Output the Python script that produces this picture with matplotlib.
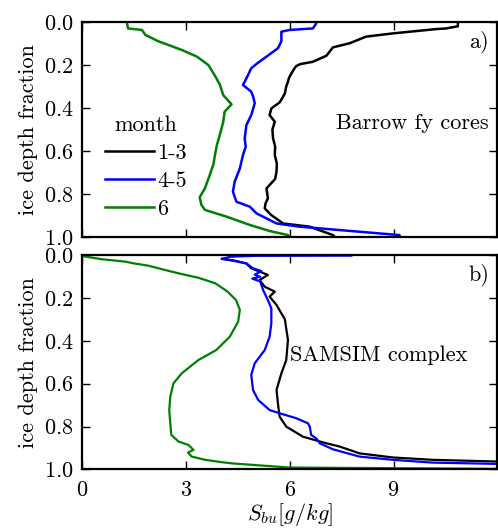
import matplotlib
matplotlib.use("Agg")
import matplotlib.pyplot as plt

# a) Barrow first-year cores: bulk salinity vs ice depth fraction
barrow_z_13 = [0.0, 0.02, 0.03, 0.033, 0.053, 0.068, 0.099, 0.118, 0.157, 0.185, 0.196, 0.205,
               0.22, 0.239, 0.26, 0.278, 0.30, 0.332, 0.35, 0.374, 0.402, 0.433, 0.464, 0.50,
               0.541, 0.58, 0.619, 0.66, 0.696, 0.73, 0.758, 0.774, 0.82, 0.845, 0.867, 0.898,
               0.937, 0.952, 0.991, 1.0]
barrow_s_13 = [10.86, 10.86, 10.52, 10.23, 8.98, 8.21, 7.73, 7.25, 7.06, 6.67, 6.30, 6.19,
               6.12, 6.05, 5.98, 5.95, 5.90, 5.86, 5.80, 5.71, 5.47, 5.42, 5.57, 5.50,
               5.52, 5.58, 5.57, 5.63, 5.62, 5.58, 5.42, 5.33, 5.37, 5.30, 5.28, 5.47,
               5.81, 6.58, 7.25, 7.30]

barrow_z_45 = [0.0, 0.006, 0.03, 0.037, 0.045, 0.09, 0.122, 0.161, 0.19, 0.215, 0.262, 0.293,
               0.324, 0.35, 0.378, 0.433, 0.479, 0.541, 0.58, 0.619, 0.681, 0.743, 0.789, 0.836,
               0.859, 0.89, 0.937, 0.952, 0.991, 1.0]
barrow_s_45 = [6.77, 6.77, 6.67, 6.00, 5.76, 5.76, 5.66, 5.33, 5.08, 4.89, 4.75, 4.65,
               4.89, 4.95, 4.99, 4.89, 4.75, 4.70, 4.73, 4.65, 4.56, 4.41, 4.36, 4.46,
               4.85, 5.04, 5.62, 6.29, 9.17, 9.20]

barrow_z_6 = [0.0, 0.006, 0.03, 0.037, 0.06, 0.09, 0.107, 0.13, 0.161, 0.20, 0.25, 0.29,
              0.34, 0.383, 0.417, 0.464, 0.526, 0.57, 0.619, 0.66, 0.712, 0.774, 0.815, 0.851,
              0.874, 0.905, 0.944, 0.972, 0.991, 1.0]
barrow_s_6 = [1.30, 1.30, 1.33, 1.73, 1.83, 2.21, 2.50, 2.88, 3.32, 3.65, 3.84, 3.98,
              4.08, 4.32, 4.12, 4.08, 3.98, 3.90, 3.84, 3.80, 3.69, 3.55, 3.40, 3.45,
              3.55, 4.17, 4.85, 5.42, 5.95, 6.00]

# b) SAMSIM complex run
samsim_z_13 = [0.018, 0.026, 0.04, 0.062, 0.093, 0.117, 0.148, 0.171, 0.194, 0.233, 0.30,
               0.396, 0.49, 0.552, 0.629, 0.692, 0.754, 0.80, 0.847, 0.878, 0.893, 0.925,
               0.944, 0.955, 0.963]
samsim_s_13 = [4.05, 4.40, 4.75, 4.89, 5.37, 5.13, 5.28, 5.57, 5.42, 5.62, 5.86,
               5.95, 5.90, 5.76, 5.62, 5.66, 5.71, 5.90, 6.38, 7.06, 7.44, 8.02,
               8.98, 10.13, 12.0]

samsim_z_45 = [0.003, 0.004, 0.008, 0.018, 0.025, 0.039, 0.062, 0.075, 0.092, 0.102, 0.110,
               0.124, 0.163, 0.21, 0.249, 0.318, 0.381, 0.443, 0.505, 0.559, 0.629, 0.676,
               0.723, 0.738, 0.761, 0.785, 0.80, 0.839, 0.855, 0.878, 0.906, 0.94, 0.955,
               0.968, 0.974]
samsim_s_45 = [7.78, 5.00, 4.30, 4.03, 4.30, 4.75, 4.94, 5.18, 4.99, 5.15, 4.92,
               5.15, 5.23, 5.37, 5.47, 5.47, 5.42, 5.28, 4.99, 4.89, 4.94, 5.09,
               5.42, 5.71, 6.19, 6.53, 6.58, 6.62, 6.77, 6.87, 7.25, 8.02, 8.98,
               10.13, 12.0]

samsim_z_6 = [0.005, 0.020, 0.031, 0.039, 0.050, 0.070, 0.089, 0.106, 0.132, 0.17, 0.21,
              0.256, 0.311, 0.381, 0.443, 0.49, 0.552, 0.599, 0.661, 0.723, 0.785, 0.839,
              0.87, 0.886, 0.909, 0.921, 0.94, 0.955, 0.966, 0.972, 0.991, 0.997]
samsim_s_6 = [0.0, 0.58, 1.25, 1.49, 1.92, 2.40, 2.88, 3.36, 3.85, 4.20, 4.45,
              4.56, 4.51, 4.27, 3.88, 3.36, 2.88, 2.64, 2.55, 2.52, 2.55, 2.58,
              2.79, 3.08, 3.22, 3.06, 3.17, 3.56, 4.04, 4.36, 6.00, 12.0]

months = ["1-3", "4-5", "6"]
colores = ["black", "blue", "green"]

plt.rcParams["font.family"] = "cmr10"
plt.rcParams["mathtext.fontset"] = "cm"
plt.rcParams["axes.formatter.use_mathtext"] = True
plt.rcParams["font.size"] = 16

fig = plt.figure(figsize=(4.98, 5.30), dpi=100)
ax1 = fig.add_axes([0.1647, 0.5528, 0.834, 0.4057])
ax2 = fig.add_axes([0.1647, 0.1142, 0.834, 0.4047], sharex=ax1)

top = [(barrow_s_13, barrow_z_13), (barrow_s_45, barrow_z_45), (barrow_s_6, barrow_z_6)]
bot = [(samsim_s_13, samsim_z_13), (samsim_s_45, samsim_z_45), (samsim_s_6, samsim_z_6)]

for (s, z), c, m in zip(top, colores, months):
    ax1.plot(s, z, color=c, lw=1.8, label=m)
for (s, z), c in zip(bot, colores):
    ax2.plot(s, z, color=c, lw=1.6)

for ax in (ax1, ax2):
    ax.set_xlim(0, 12)
    ax.set_ylim(1, 0)
    ax.set_xticks([0, 3, 6, 9])
    ax.set_yticks([0.0, 0.2, 0.4, 0.6, 0.8, 1.0])
    ax.tick_params(direction="in", top=True, right=True, length=6, width=1)
    ax.tick_params(axis="y", pad=6)
    ax.tick_params(axis="x", pad=8)
    for sp in ax.spines.values():
        sp.set_linewidth(1.6)
    ax.set_ylabel("ice depth fraction")

ax1.tick_params(labelbottom=False)
ax2.set_xlabel(r"$S_{bu}[g/kg]$", labelpad=1)

# y axis is inverted, so axes fractions count from the bottom
ax1.text(0.98, 0.907, "a)", transform=ax1.transAxes, ha="right", va="center")
ax2.text(0.98, 0.907, "b)", transform=ax2.transAxes, ha="right", va="center")
ax1.text(0.98, 0.53, "Barrow fy cores", transform=ax1.transAxes, ha="right", va="center")
ax2.text(6.0, 0.466, "SAMSIM complex", ha="left", va="center")

ax1.legend(title="month", frameon=False, loc="center left", bbox_to_anchor=(0.055, 0.325),
           handlelength=2.2, handletextpad=0.15, labelspacing=0.38, borderaxespad=0.0,
           borderpad=0.0)

fig.savefig("out.png", dpi=100)
